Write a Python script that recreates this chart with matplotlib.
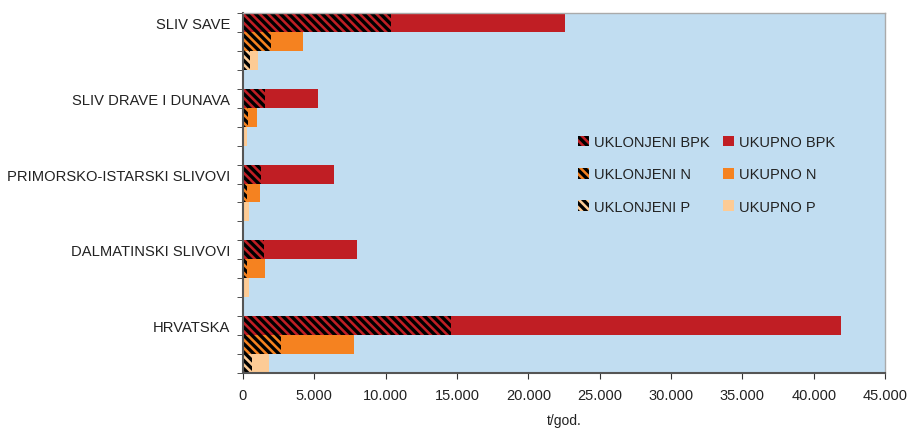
import matplotlib
matplotlib.use("Agg")
import matplotlib.pyplot as plt
from matplotlib.patches import Patch
from matplotlib.ticker import FuncFormatter

plt.rcParams['font.family'] = ['Liberation Sans', 'DejaVu Sans']
plt.rcParams['hatch.linewidth'] = 2.4

categories = ["SLIV SAVE", "SLIV DRAVE I DUNAVA", "PRIMORSKO-ISTARSKI SLIVOVI",
              "DALMATINSKI SLIVOVI", "HRVATSKA"]
ukupno_bpk = [22570, 5260, 6380, 7990, 41900]
uklonjeni_bpk = [10370, 1540, 1240, 1470, 14560]
ukupno_n = [4180, 980, 1190, 1540, 7780]
uklonjeni_n = [1960, 330, 300, 300, 2660]
ukupno_p = [1030, 280, 420, 400, 1790]
uklonjeni_p = [490, 100, 100, 100, 600]
x_ticks = list(range(0, 45001, 5000))

col_bpk = "#C01E24"
col_n = "#F58220"
col_p = "#FDCB95"
bg = "#C1DDF1"

fig = plt.figure(figsize=(9.11, 4.31), dpi=100)
ax = fig.add_axes([0.2667, 0.1323, 0.7048, 0.8352])
ax.set_facecolor(bg)

hatch = '\\' * 4
for g in range(len(categories)):
    base = 4 * g
    rows = [(base, ukupno_bpk[g], uklonjeni_bpk[g], col_bpk),
            (base + 1, ukupno_n[g], uklonjeni_n[g], col_n),
            (base + 2, ukupno_p[g], uklonjeni_p[g], col_p)]
    for s, tot, rem, c in rows:
        ax.barh(s + 0.5, tot, height=1.0, color=c, linewidth=0)
        ax.barh(s + 0.5, rem, height=1.0, color=c, edgecolor='black',
                hatch=hatch, linewidth=0)

n_slots = 4 * len(categories) - 1
ax.set_ylim(n_slots, 0)
ax.set_xlim(0, 45000)

ax.set_yticks([4 * g + 0.5 for g in range(len(categories))])
ax.set_yticklabels(categories, fontsize=10.6, color='#222222')
ax.set_yticks(list(range(0, n_slots + 1)), minor=True)
ax.tick_params(axis='y', which='major', length=0, pad=9)
ax.tick_params(axis='y', which='minor', length=4, color='#333333')

ax.set_xticks(x_ticks)
ax.xaxis.set_major_formatter(FuncFormatter(lambda v, p: f"{int(v):,}".replace(',', '.')))
ax.tick_params(axis='x', length=4, color='#333333', labelsize=10.5,
               labelcolor='#222222', pad=7)
ax.set_xlabel("t/god.", fontsize=10, color='#222222', labelpad=8)

for side in ['left', 'bottom']:
    ax.spines[side].set_color('#555555')
    ax.spines[side].set_linewidth(1.5)
for side in ['top', 'right']:
    ax.spines[side].set_color('#AAAAAA')
    ax.spines[side].set_linewidth(1.0)

handles = [
    Patch(facecolor=col_bpk, edgecolor='black', hatch=hatch, linewidth=0, label="UKLONJENI BPK"),
    Patch(facecolor=col_n, edgecolor='black', hatch=hatch, linewidth=0, label="UKLONJENI N"),
    Patch(facecolor=col_p, edgecolor='black', hatch=hatch, linewidth=0, label="UKLONJENI P"),
    Patch(facecolor=col_bpk, linewidth=0, label="UKUPNO BPK"),
    Patch(facecolor=col_n, linewidth=0, label="UKUPNO N"),
    Patch(facecolor=col_p, linewidth=0, label="UKUPNO P"),
]
ax.legend(handles=handles, ncol=2, frameon=False, fontsize=10.5,
          loc='center', bbox_to_anchor=(0.722, 0.552),
          handlelength=0.75, handleheight=0.75, handletextpad=0.35,
          columnspacing=0.95, labelspacing=1.25, labelcolor='#222222')

fig.savefig("out.png", dpi=100)
